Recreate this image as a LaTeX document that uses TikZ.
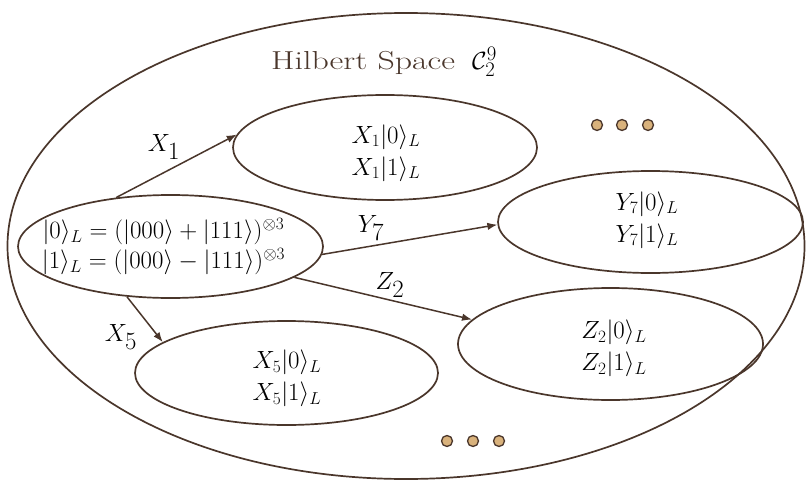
\documentclass[tikz,border=0pt]{standalone}
\usetikzlibrary{arrows.meta,shapes.geometric}
\definecolor{ln}{HTML}{4A362B}
\definecolor{dotfill}{HTML}{D9B27C}
\begin{document}
\begin{tikzpicture}[x=1pt,y=-1pt,
  ell/.style={draw=ln,line width=1.7pt,ellipse,inner sep=0pt},
  arr/.style={draw=ln,line width=1.5pt,-{Latex[length=10pt,width=7.5pt]}},
  lab/.style={font=\fontsize{33}{36}\selectfont},
  txt/.style={font=\fontsize{24.5}{32}\selectfont,align=center},
  dotc/.style={circle,draw=ln,fill=dotfill,line width=1.3pt,minimum size=11pt,inner sep=0pt}]
\useasboundingbox (0,0) rectangle (810,484);
\node[ell,minimum width=797pt,minimum height=466pt] (outer) at (406,246) {};
\node[font=\fontsize{26}{30}\selectfont,text=ln,anchor=base west,inner sep=0pt] (title) at (271,70) {\scalebox{1.3}[1]{Hilbert Space}};
\node[font=\fontsize{30}{34}\selectfont,anchor=base west,inner sep=0pt] (titlec) at (472,70) {$\mathcal{C}_2^9$};
\node[ell,minimum width=305pt,minimum height=103pt] (main) at (170.5,246.5) {};
\node[txt,font=\fontsize{24.5}{30}\selectfont] (maint) at (163.5,247) {$|0\rangle_L = (|000\rangle + |111\rangle)^{\otimes 3}$\\ $|1\rangle_L = (|000\rangle - |111\rangle)^{\otimes 3}$};
\node[ell,minimum width=304pt,minimum height=105pt] (ex1) at (385,147.5) {};
\node[txt] (ex1t) at (386,153) {$X_1|0\rangle_L$\\ $X_1|1\rangle_L$};
\node[ell,minimum width=305pt,minimum height=102pt] (ey7) at (650.5,222) {};
\node[txt] (ey7t) at (647,220) {$Y_7|0\rangle_L$\\ $Y_7|1\rangle_L$};
\node[ell,minimum width=305pt,minimum height=112pt] (ez2) at (610.5,344) {};
\node[txt] (ez2t) at (614,348.5) {$Z_2|0\rangle_L$\\ $Z_2|1\rangle_L$};
\node[ell,minimum width=303pt,minimum height=104pt] (ex5) at (286.5,373) {};
\node[txt] (ex5t) at (287,378.5) {$X_5|0\rangle_L$\\ $X_5|1\rangle_L$};
\draw[arr] (main.138.3) -- (ex1.175.2);
\draw[arr] (main.-3.5) -- (ey7.181.9);
\draw[arr] (main.-14.3) -- (ez2.170.1);
\draw[arr] (main.-131.8) -- (ex5.166);
\node[lab] (lx1) at (164,147) {$X_1$};
\node[lab] (ly7) at (371,228) {$Y_7$};
\node[lab] (lz2) at (390,285) {$Z_2$};
\node[lab] (lx5) at (121,337) {$X_5$};
\node[dotc] (d1) at (597,125) {};
\node[dotc] (d2) at (622,125) {};
\node[dotc] (d3) at (648,125) {};
\node[dotc] (d4) at (447,441) {};
\node[dotc] (d5) at (473,441) {};
\node[dotc] (d6) at (499,441) {};
\end{tikzpicture}
\end{document}
